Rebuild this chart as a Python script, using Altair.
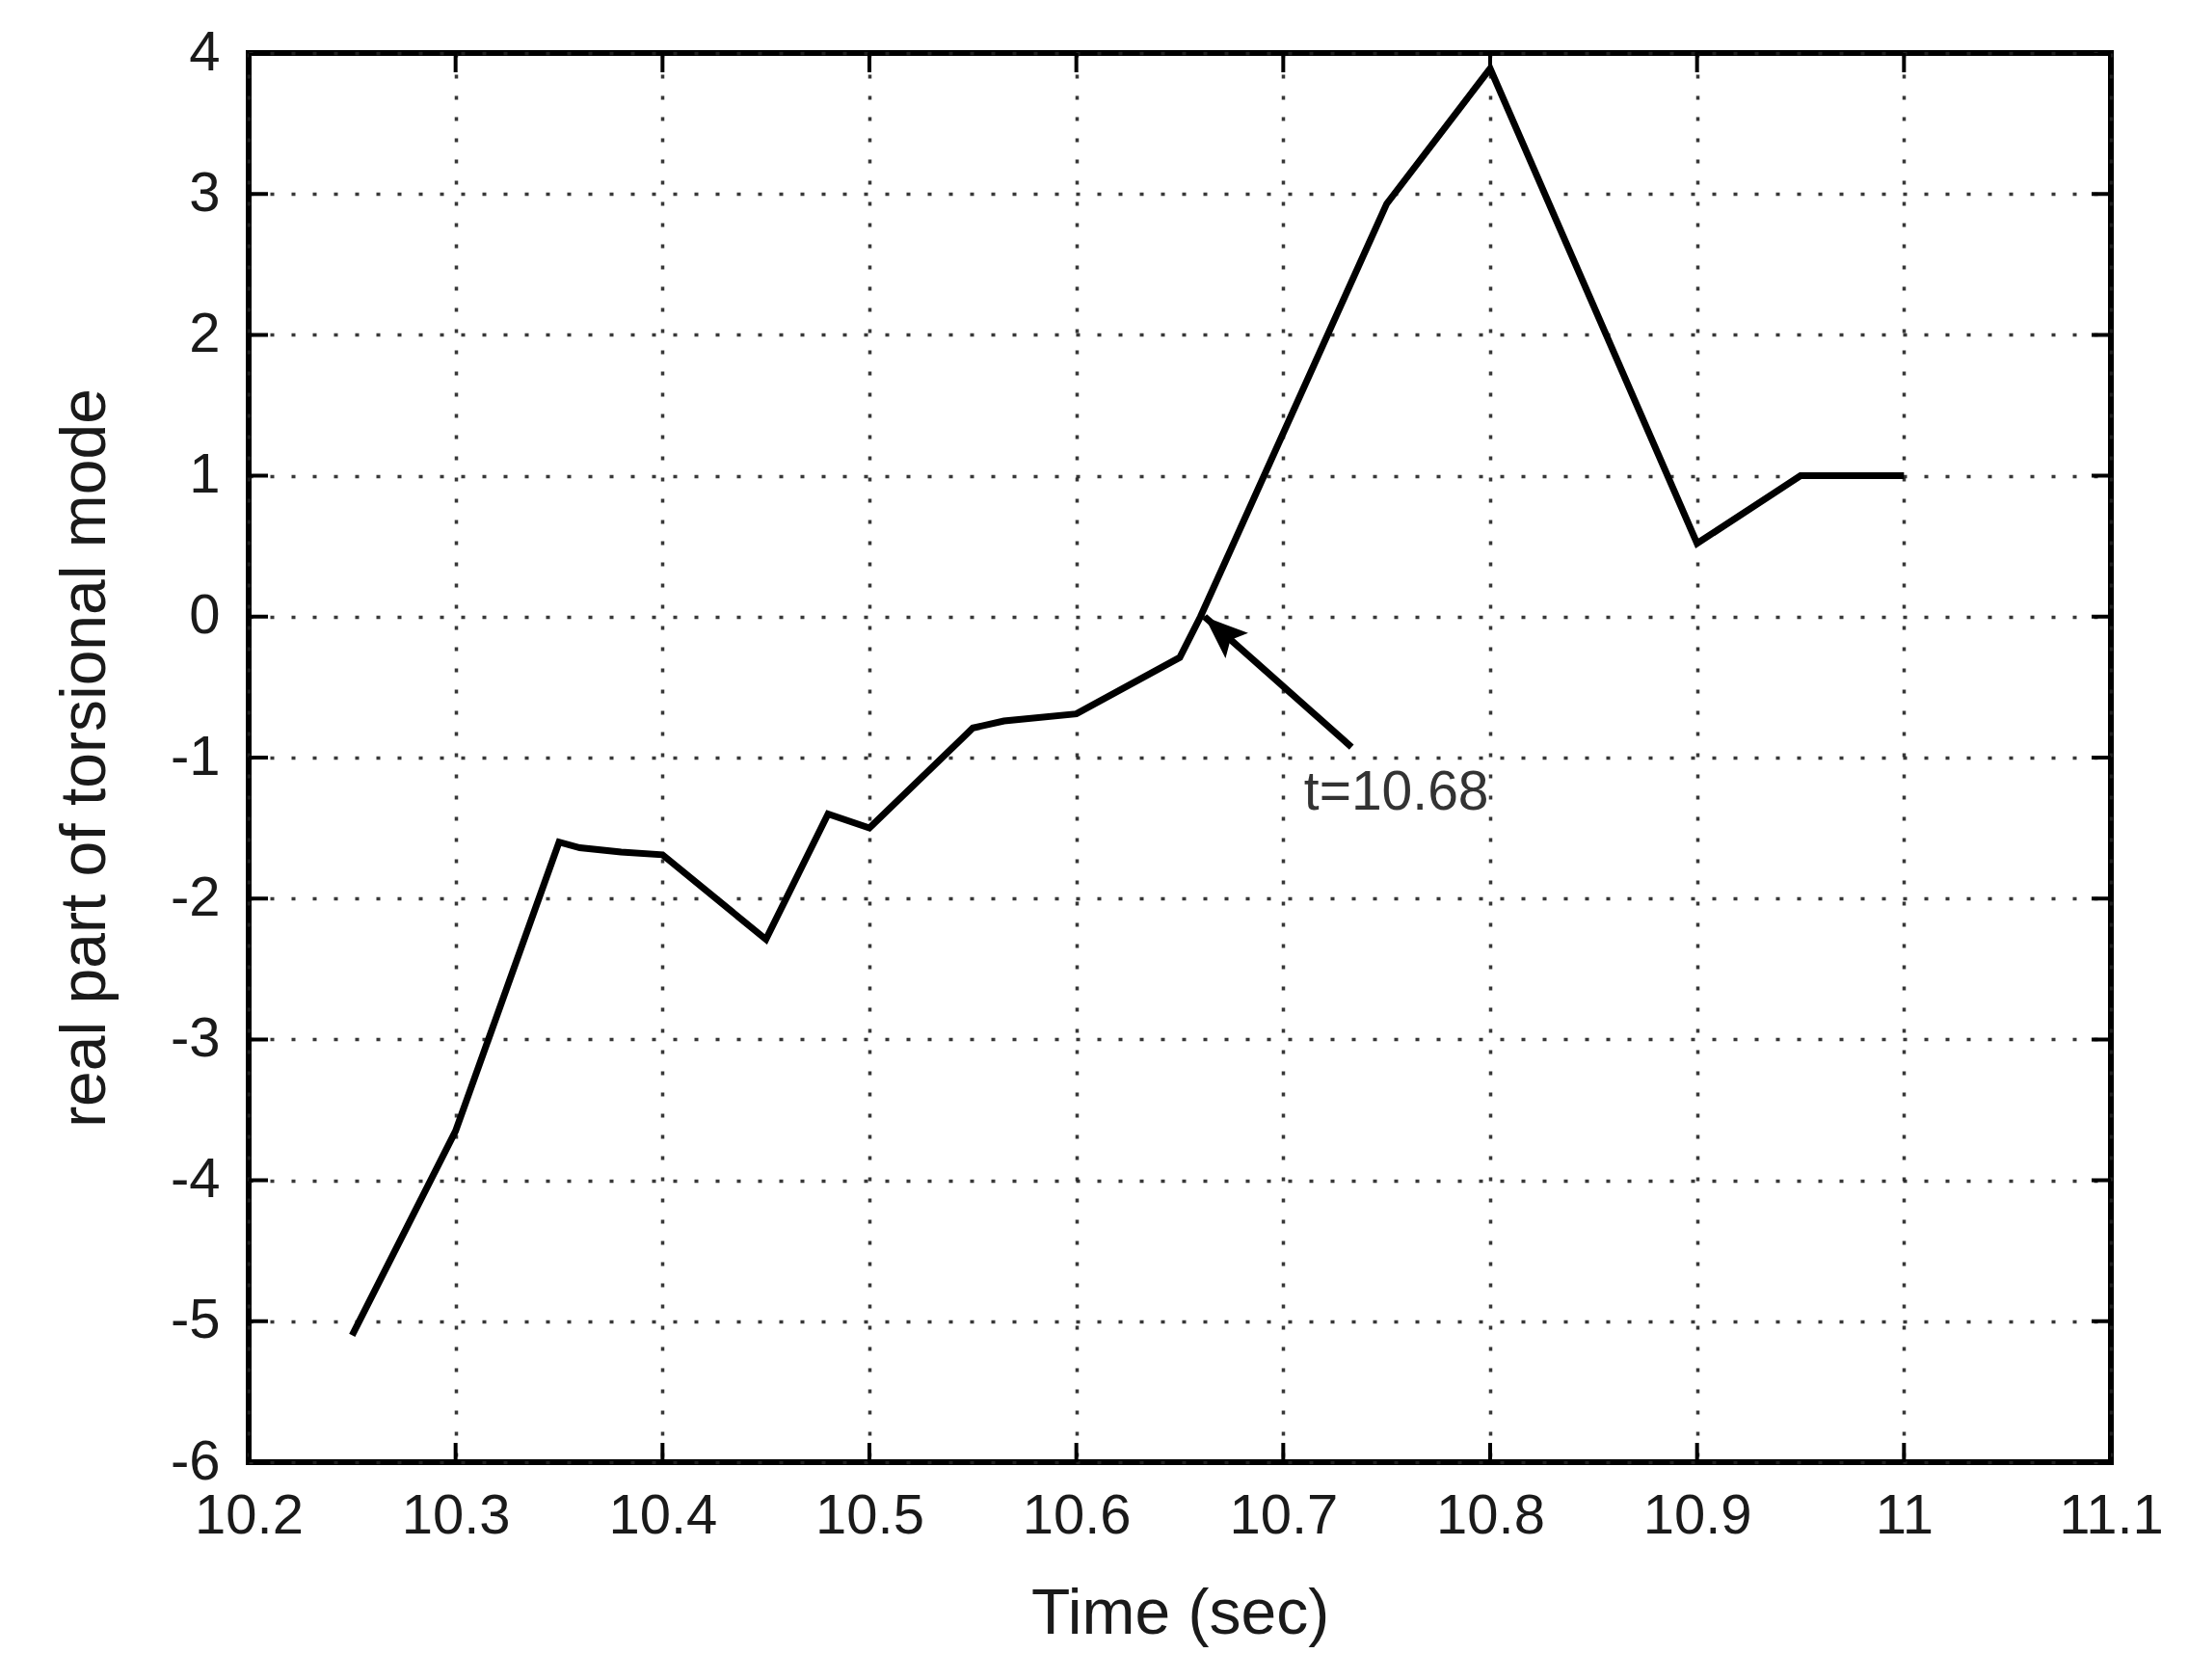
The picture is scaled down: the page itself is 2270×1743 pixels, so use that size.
import altair as alt
import pandas as pd

# ---- data ----
time_s = [10.25, 10.30, 10.35, 10.36, 10.38, 10.40, 10.45, 10.48, 10.50,
          10.55, 10.565, 10.60, 10.65, 10.66, 10.75, 10.80, 10.90, 10.95, 11.00]
real_part = [-5.10, -3.65, -1.60, -1.64, -1.67, -1.69, -2.29, -1.40, -1.50,
             -0.79, -0.74, -0.69, -0.29, 0.00, 2.93, 3.89, 0.52, 1.00, 1.00]

x_ticks = [10.2, 10.3, 10.4, 10.5, 10.6, 10.7, 10.8, 10.9, 11.0, 11.1]
y_ticks = [-6, -5, -4, -3, -2, -1, 0, 1, 2, 3, 4]
x_domain = [10.2, 11.1]
y_domain = [-6, 4]

arrow_t = [10.733, 10.662]
arrow_v = [-0.925, 0.0]
note_t = [10.71]
note_v = [-1.37]
note_text = ["t=10.68"]

FONT = "Liberation Sans"

df = pd.DataFrame({"t": time_s, "v": real_part})
arrow_df = pd.DataFrame({"t": arrow_t, "v": arrow_v})
head_df = pd.DataFrame({"t": [arrow_t[-1]], "v": [arrow_v[-1]]})
note_df = pd.DataFrame({"t": note_t, "v": note_v, "label": note_text})
xtick_df = pd.DataFrame({"t": x_ticks * 2,
                         "v": [y_domain[0]] * len(x_ticks) + [y_domain[1]] * len(x_ticks)})
ytick_df = pd.DataFrame({"t": [x_domain[0]] * len(y_ticks) + [x_domain[1]] * len(y_ticks),
                         "v": y_ticks * 2})

grid_kw = dict(grid=True, gridDash=[4, 18], gridColor="#222222", gridWidth=3.5,
               gridOpacity=0.9, ticks=False, domain=False,
               labelFontSize=58, labelExpr="datum.value + ''",
               labelOverlap=False, labelFlush=False, titleFontSize=66)

X = alt.X("t:Q", scale=alt.Scale(domain=x_domain, nice=False, zero=False),
          axis=alt.Axis(values=x_ticks, title="Time (sec)", labelPadding=27,
                        titlePadding=40, **grid_kw))
Y = alt.Y("v:Q", scale=alt.Scale(domain=y_domain, nice=False, zero=False),
          axis=alt.Axis(values=y_ticks, title="real part of torsional mode",
                        labelPadding=30, titlePadding=54, **grid_kw))

line = alt.Chart(df).mark_line(color="black", strokeWidth=7).encode(x=X, y=Y)

arrow_line = alt.Chart(arrow_df).mark_line(color="black", strokeWidth=7).encode(x=X, y=Y)

head_path = "M0,0 L0.39,1 L0,0.8 L-0.39,1 Z"
arrow_head = alt.Chart(head_df).mark_point(
    shape=head_path, size=8100, angle=312, filled=True, color="black",
    opacity=1, strokeWidth=0).encode(x=X, y=Y)

note = alt.Chart(note_df).mark_text(
    align="left", baseline="alphabetic", fontSize=57, color="#333333", font=FONT
).encode(x=X, y=Y, text="label:N")

xticks_mark = alt.Chart(xtick_df).mark_tick(
    orient="vertical", size=40, thickness=4, color="black", opacity=1, clip=True
).encode(x=X, y=Y)
yticks_mark = alt.Chart(ytick_df).mark_tick(
    orient="horizontal", size=40, thickness=4, color="black", opacity=1, clip=True
).encode(x=X, y=Y)

chart = alt.layer(line, arrow_line, arrow_head, note, xticks_mark, yticks_mark).properties(
    width=1932, height=1462,
    autosize=alt.AutoSizeParams(type="none"),
    padding={"left": 250, "top": 47, "right": 72, "bottom": 218},
    background="white",
).configure_view(
    stroke="black", strokeWidth=6
).configure_axis(
    labelFont=FONT, titleFont=FONT, labelColor="#1a1a1a", titleColor="#1a1a1a",
    titleFontWeight="normal"
)

chart.save("out.html", embed_options={"renderer": "svg", "actions": False})
